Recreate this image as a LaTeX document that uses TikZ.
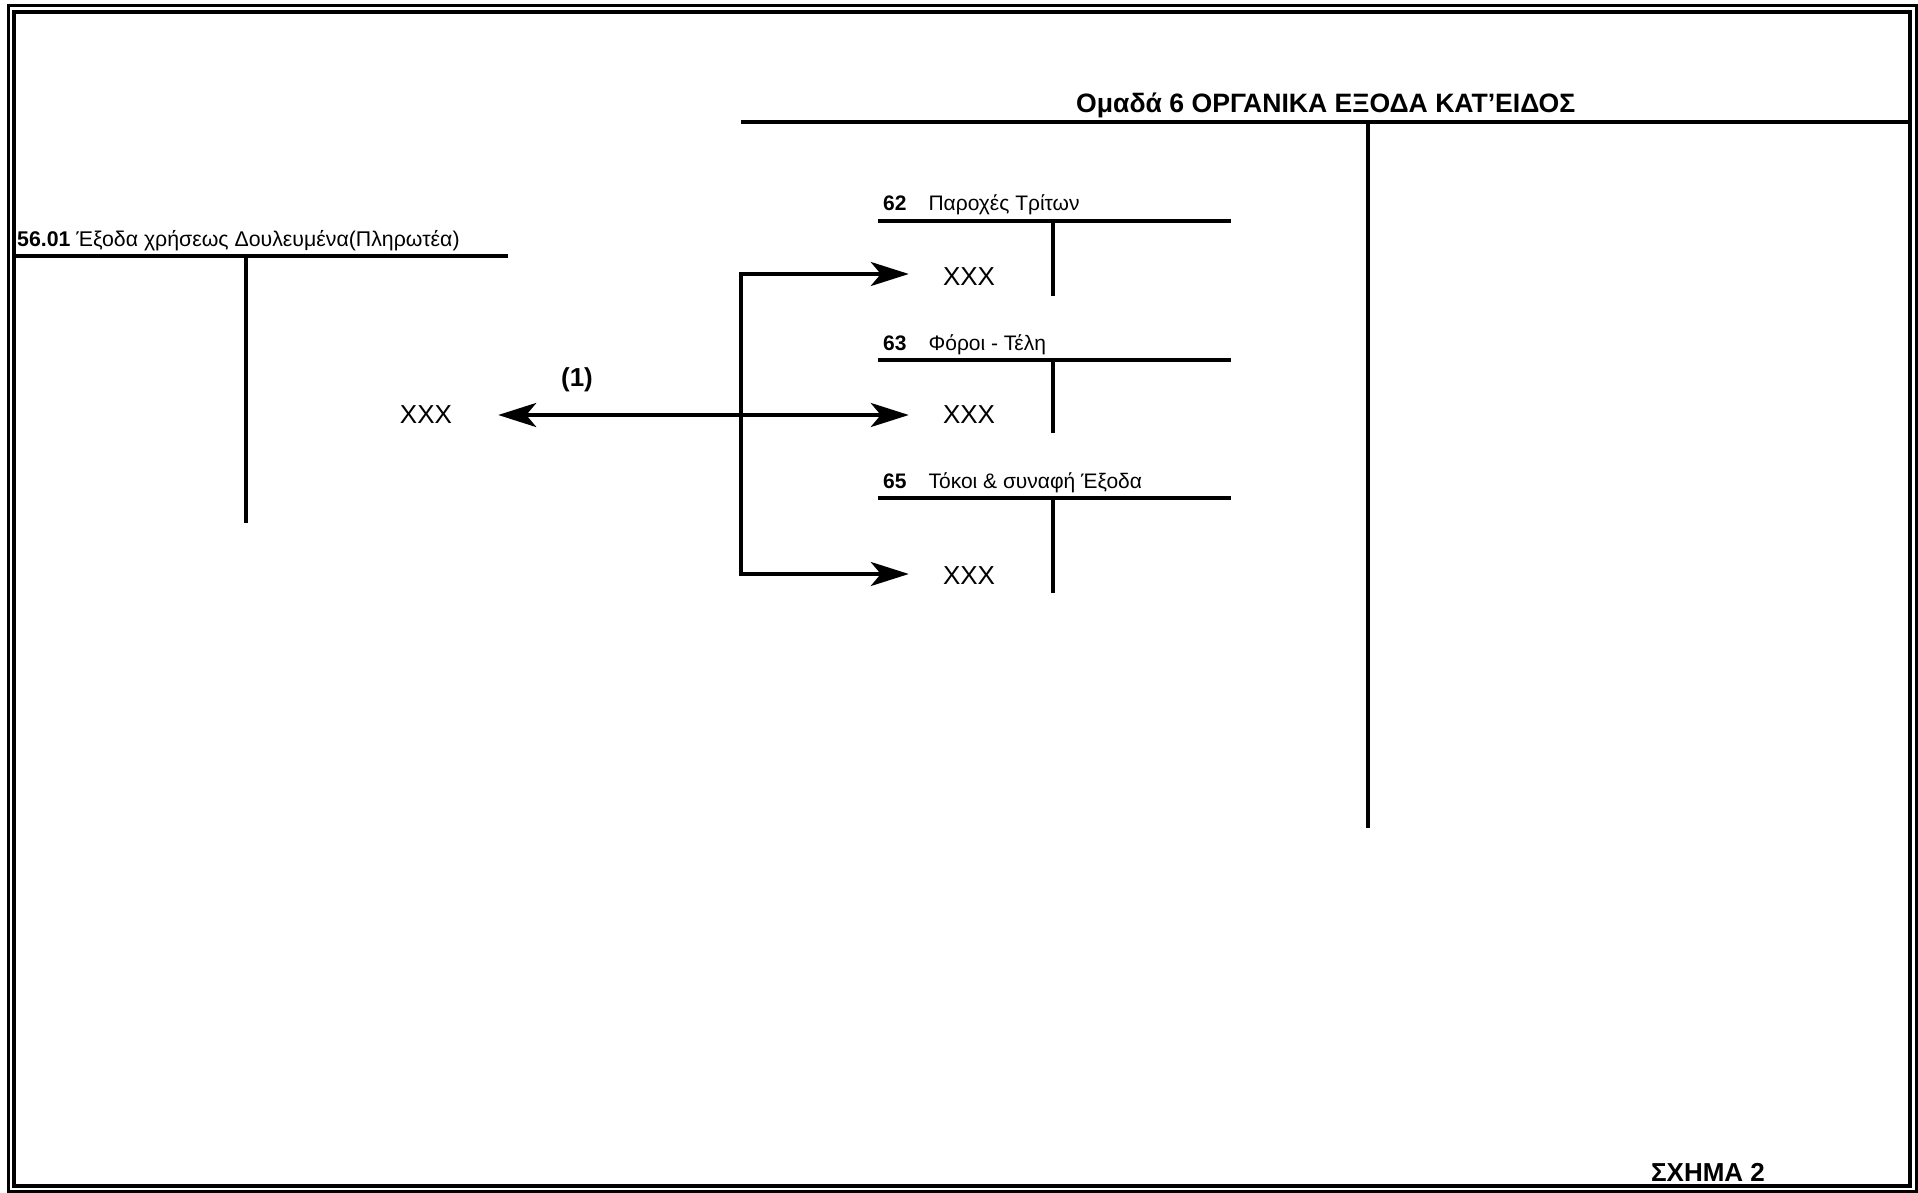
\documentclass[tikz,border=0pt]{standalone}
\usepackage{fontspec}
\setmainfont{Liberation Sans}
\usetikzlibrary{arrows.meta}
\begin{document}
\begin{tikzpicture}[x=1pt,y=-1pt,
  tline/.style={line width=4.5pt, line cap=butt},
  conn/.style={line width=4pt, line join=miter},
  dbl/.style={{Stealth[length=38pt,width=24pt,inset=10pt]}-{Stealth[length=38pt,width=24pt,inset=10pt]}},
  acclab/.style={inner sep=0pt, anchor=base west, font=\fontsize{21}{25}\selectfont},
  biglab/.style={inner sep=0pt, anchor=base west, font=\fontsize{21.3}{25}\selectfont},
  titlelab/.style={inner sep=0pt, anchor=base west, font=\fontsize{26.6}{30}\selectfont\bfseries},
  xxx/.style={inner sep=0pt, font=\fontsize{26}{30}\selectfont},
  boldlab/.style={inner sep=0pt, font=\fontsize{26}{30}\selectfont\bfseries}
]
\useasboundingbox (0,0) rectangle (1918,1193);
% frame
\draw[line width=3pt] (8,6) rectangle (1916,1191);
\draw[line width=3.5pt] (14,12) rectangle (1910,1186);

% left account 56.01
\node[biglab] (l5601) at (17,246) {\textbf{56.01} Έξοδα χρήσεως Δουλευμένα(Πληρωτέα)};
\draw[tline] (15,256) -- (508,256);
\draw[tline] (246,256) -- (246,523);

% group 6
\node[titlelab] (l6) at (1076,113) {Ομαδά 6 ΟΡΓΑΝΙΚΑ ΕΞΟΔΑ ΚΑΤ'ΕΙΔΟΣ};
\draw[tline] (741,122) -- (1910,122);
\draw[tline] (1368,122) -- (1368,828);

% account 62
\node[acclab] (l62) at (883,211) {\textbf{62}\hspace{22pt}Παροχές Τρίτων};
\draw[tline] (878,221) -- (1231,221);
\draw[tline] (1053,221) -- (1053,296);
% account 63
\node[acclab] (l63) at (883,350) {\textbf{63}\hspace{22pt}Φόροι - Τέλη};
\draw[tline] (878,360) -- (1231,360);
\draw[tline] (1053,360) -- (1053,433);
% account 65
\node[acclab] (l65) at (883,488) {\textbf{65}\hspace{22pt}Τόκοι \& συναφή Έξοδα};
\draw[tline] (878,498) -- (1231,498);
\draw[tline] (1053,498) -- (1053,593);

% amounts
\node[xxx] (x62) at (969,277) {XXX};
\node[xxx] (x63) at (969,415) {XXX};
\node[xxx] (x65) at (969,576) {XXX};
\node[xxx] (xl) at (426,415) {XXX};
\node[boldlab] (n1) at (577,380) {(1)};

% figure caption
\node[boldlab] (cap) at (1708,1172) {ΣΧΗΜΑ 2};

% connectors
\coordinate (j1) at (741,274);
\coordinate (j3) at (741,574);
\draw[conn,dbl,shorten <=34pt,shorten >=34pt] (j1 -| x62.west) -- (j1) -- (j3) -- (j3 -| x65.west);
\draw[conn,dbl,shorten <=46pt,shorten >=34pt] (xl.east) -- (xl.east -| x63.west);
\end{tikzpicture}
\end{document}
